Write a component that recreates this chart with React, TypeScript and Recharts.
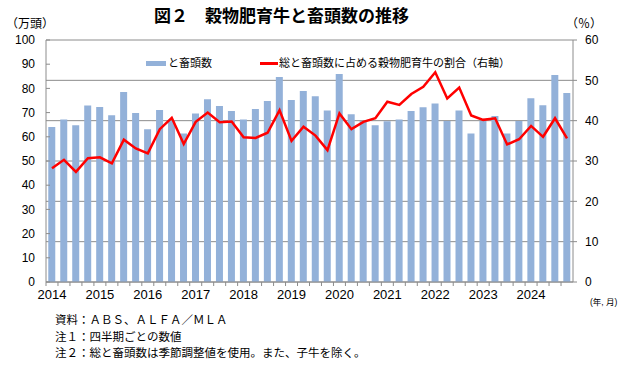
import React from "react";
import {
  Bar,
  CartesianGrid,
  ComposedChart,
  Legend,
  Line,
  XAxis,
  YAxis,
} from "recharts";

const years = [2014, 2015, 2016, 2017, 2018, 2019, 2020, 2021, 2022, 2023, 2024];
const months = [3, 6, 9, 12];

// と畜頭数（万頭）
const headCount = [
  64.0, 67.2, 64.8, 72.9, 72.3, 68.9, 78.5, 69.8, 63.1, 71.1, 66.5, 61.4,
  69.6, 75.5, 72.7, 70.7, 67.2, 71.5, 74.8, 84.7, 75.2, 78.9, 76.8, 70.9,
  86.0, 69.3, 66.5, 64.8, 66.4, 67.2, 70.7, 72.2, 73.8, 66.5, 70.9, 61.4,
  66.5, 68.6, 61.4, 66.5, 75.9, 73.0, 85.5, 78.1,
];

// 総と畜頭数に占める穀物肥育牛の割合（%）
const grainShare = [
  28.2, 30.3, 27.3, 30.7, 30.9, 29.4, 35.3, 33.1, 31.9, 37.9, 40.7, 34.2,
  39.7, 42.0, 39.6, 39.8, 35.9, 35.7, 37.0, 42.6, 35.0, 38.5, 36.3, 32.7,
  41.8, 37.9, 39.7, 40.6, 44.7, 43.9, 46.6, 48.4, 52.0, 45.5, 48.2, 41.3,
  40.2, 40.6, 34.1, 35.4, 38.7, 36.0, 40.6, 35.6,
];

const leftTicks = [0, 10, 20, 30, 40, 50, 60, 70, 80, 90, 100];
const rightTicks = [0, 10, 20, 30, 40, 50, 60];

const notes = [
  "資料：ＡＢＳ、ＡＬＦＡ／ＭＬＡ",
  "注１：四半期ごとの数値",
  "注２：総と畜頭数は季節調整値を使用。また、子牛を除く。",
];

const periods = years.flatMap((y) => months.map((m) => `${y}.${m}`));

const data = periods.map((p, i) => ({
  period: p,
  head: headCount[i],
  share: grainShare[i],
}));

const FONT = "'Liberation Sans', Arial, 'Noto Sans CJK JP', sans-serif";
const AXIS = "#8c8c8c";
const PLOT_W = 527;
const BAND = PLOT_W / periods.length;

function YearTick(props: any) {
  const { x, y, payload } = props;
  const [yr, m] = String(payload.value).split(".");
  return (
    <g>
      <line x1={x - BAND / 2} x2={x - BAND / 2} y1={y} y2={y + 4} stroke={AXIS} />
      {m === "3" && (
        <text x={x} y={y + 17} textAnchor="middle" fontSize={13} fill="#000" fontFamily={FONT}>
          {yr}
        </text>
      )}
    </g>
  );
}

function LeftTick(props: any) {
  const { x, y, payload } = props;
  return (
    <g>
      <line x1={x + 11} x2={x + 15} y1={y} y2={y} stroke={AXIS} />
      <text x={x} y={y} dy="0.35em" textAnchor="end" fontSize={12} fill="#000" fontFamily={FONT}>
        {payload.value}
      </text>
    </g>
  );
}

function LegendBox() {
  const txt: React.CSSProperties = {
    position: "absolute",
    top: 0,
    fontSize: 11,
    lineHeight: "16px",
    color: "#000",
    fontFamily: FONT,
    whiteSpace: "nowrap",
  };
  return (
    <div style={{ position: "relative", width: 640, height: 16 }}>
      <div style={{ position: "absolute", left: 146, top: 6, width: 20, height: 5, background: "#93B1D9" }} />
      <div style={{ ...txt, left: 168 }}>と畜頭数</div>
      <div style={{ position: "absolute", left: 260, top: 7, width: 18, height: 2.5, background: "#FF0000" }} />
      <div style={{ ...txt, left: 279 }}>総と畜頭数に占める穀物肥育牛の割合（右軸）</div>
    </div>
  );
}

export default function App() {
  const abs: React.CSSProperties = {
    position: "absolute",
    fontFamily: FONT,
    color: "#000",
    whiteSpace: "nowrap",
  };
  return (
    <div style={{ position: "absolute", left: 0, top: 0, width: 640, height: 367, background: "#fff" }}>
      <ComposedChart
        width={640}
        height={367}
        data={data}
        margin={{ top: 40, right: 0, left: 0, bottom: 65 }}
        barCategoryGap="19%"
      >
        <CartesianGrid yAxisId="right" vertical={false} stroke={AXIS} />
        <XAxis
          dataKey="period"
          height={20}
          interval={0}
          tickLine={false}
          tickSize={0}
          tickMargin={0}
          axisLine={{ stroke: AXIS }}
          tick={<YearTick />}
        />
        <YAxis
          yAxisId="left"
          width={46}
          domain={[0, 100]}
          ticks={leftTicks}
          interval={0}
          tickLine={false}
          tickSize={0}
          tickMargin={11}
          axisLine={{ stroke: AXIS }}
          tick={<LeftTick />}
        />
        <YAxis
          yAxisId="right"
          orientation="right"
          width={67}
          domain={[0, 60]}
          ticks={rightTicks}
          interval={0}
          tickSize={4}
          tickMargin={8}
          tickLine={{ stroke: AXIS }}
          axisLine={{ stroke: AXIS }}
          tick={{ fill: "#000", fontSize: 12, fontFamily: FONT }}
        />
        <Legend
          layout="horizontal"
          verticalAlign="middle"
          align="center"
          wrapperStyle={{ left: 0, top: 55, width: 640 }}
          content={() => <LegendBox />}
        />
        <Bar
          yAxisId="left"
          dataKey="head"
          name="と畜頭数"
          fill="#93B1D9"
          isAnimationActive={false}
        />
        <Line
          yAxisId="right"
          dataKey="share"
          name="総と畜頭数に占める穀物肥育牛の割合（右軸）"
          type="linear"
          stroke="#FF0000"
          strokeWidth={2.5}
          dot={false}
          isAnimationActive={false}
        />
      </ComposedChart>
      <div style={{ ...abs, left: 154, top: 6, fontSize: 17, fontWeight: "bold", lineHeight: "22px" }}>
        図２　穀物肥育牛と畜頭数の推移
      </div>
      <div style={{ ...abs, left: 6, top: 17, fontSize: 12, lineHeight: "14px" }}>（万頭）</div>
      <div style={{ ...abs, left: 566, top: 17, fontSize: 12, lineHeight: "14px" }}>（％）</div>
      <div style={{ ...abs, left: 590, top: 297, fontSize: 8.5, lineHeight: "10px" }}>(年, 月)</div>
      <div style={{ ...abs, left: 55, top: 312, fontSize: 11.5, lineHeight: "16.5px" }}>
        {notes.map((n) => (
          <div key={n}>{n}</div>
        ))}
      </div>
    </div>
  );
}
